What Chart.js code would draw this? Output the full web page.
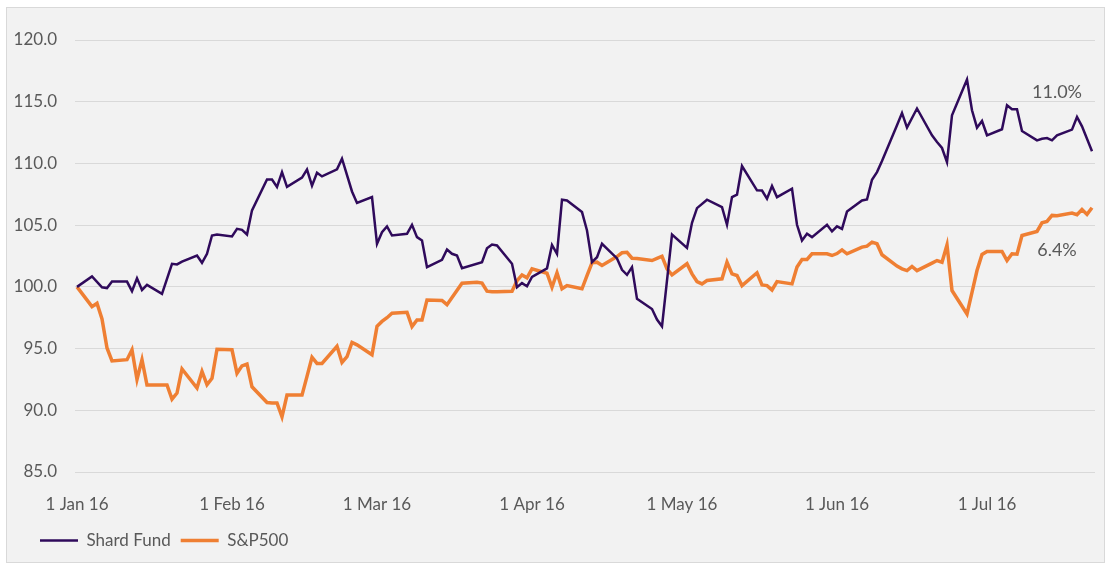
<!DOCTYPE html>
<html>
<head>
<meta charset="utf-8">
<script src="https://cdn.jsdelivr.net/npm/chart.js@4.4.1/dist/chart.umd.min.js"></script>
<style>
  html, body { margin: 0; padding: 0; background: #ffffff; }
  #frame {
    position: absolute; left: 6px; top: 7px;
    width: 1097px; height: 554px;
    background: #f2f2f2; border: 1px solid #d9d9d9;
  }
  #chart { display: block; }
</style>
</head>
<body>
<div id="frame"><canvas id="chart" width="1097" height="554"></canvas></div>
<script>
// x values are days since 1 Jan 2016 (trading days where the line bends)
const fundDays = [0, 3, 5, 6, 7, 10, 11, 12, 13, 14, 17, 19, 20, 21, 24, 25, 26, 27, 28,
    31, 32, 33, 34, 35, 38, 39, 40, 41, 42, 45, 46, 47, 48, 49, 52, 53, 55, 56, 59,
    60, 61, 62, 63, 66, 67, 68, 69, 70, 73, 74, 75, 76, 77, 81, 82, 83, 84, 87, 88, 89, 90,
    91, 94, 95, 96, 97, 98, 101, 102, 103, 104, 105, 108, 109, 110, 111, 112, 115, 116, 117, 119,
    122, 123, 124, 126, 129, 130, 131, 132, 133, 136, 137, 138, 139, 140, 143, 144, 145, 146, 147, 150, 151,
    152, 153, 154, 157, 158, 159, 160, 161, 164, 165, 166, 168, 171, 172, 173, 174, 175, 178, 179, 180, 181,
    182, 185, 186, 187, 188, 189, 192, 193, 194, 195, 196, 199, 200, 201, 203];
const fundValues = [100.0, 100.84, 99.97, 99.9, 100.43, 100.43, 99.65, 100.7, 99.75, 100.16, 99.43, 101.87, 101.82, 102.05, 102.54, 101.95, 102.68, 104.16, 104.24,
    104.08, 104.7, 104.62, 104.24, 106.2, 108.7, 108.7, 108.1, 109.3, 108.1, 108.85, 109.5, 108.2, 109.25, 108.95, 109.52, 110.39, 107.73, 106.8, 107.27,
    103.49, 104.43, 104.9, 104.16, 104.3, 105.03, 104.03, 103.76, 101.6, 102.19, 103.03, 102.68, 102.54, 101.51, 102.0, 103.13, 103.43, 103.35, 101.87, 99.97, 100.3, 100.05,
    100.8, 101.5, 103.4, 102.68, 107.06, 107.0, 106.06, 104.57, 102.0, 102.4, 103.49, 102.3, 101.38, 100.97, 101.6, 99.03, 98.2, 97.35, 96.8, 104.24,
    103.16, 105.19, 106.38, 107.06, 106.46, 105.03, 107.27, 107.47, 109.79, 107.82, 107.8, 107.14, 108.17, 107.27, 107.95, 105.03, 103.76, 104.3, 104.03, 105.03, 104.49,
    104.9, 104.7, 106.1, 107.0, 107.08, 108.68, 109.3, 110.2, 113.1, 114.09, 112.9, 114.45, 112.28, 111.74, 111.25, 110.11, 113.9, 116.8, 114.31, 112.9, 113.44,
    112.28, 112.77, 114.72, 114.39, 114.39, 112.63, 111.87, 112.0, 112.06, 111.87, 112.28, 112.74, 113.76, 113.0, 110.98];

const spDays = [0, 3, 4, 5, 6, 7, 10, 11, 12, 13, 14, 17, 18, 19, 20, 21, 24, 25, 26, 27, 28,
    31, 32, 33, 34, 35, 38, 39, 40, 41, 42, 45, 46, 47, 48, 49, 52, 53, 54, 55, 56, 59,
    60, 61, 62, 63, 66, 67, 68, 69, 70, 73, 74, 77, 80, 81, 82, 83, 84, 87, 88, 89, 90,
    91, 94, 95, 96, 97, 98, 101, 102, 103, 104, 105, 108, 109, 110, 111, 112, 115, 116, 117, 118, 119,
    122, 123, 124, 125, 126, 129, 130, 131, 132, 133, 136, 137, 138, 139, 140, 143, 144, 145, 146, 147, 150, 151,
    152, 153, 154, 157, 158, 159, 160, 161, 164, 165, 166, 167, 168, 171, 172, 173, 174, 175, 178, 179, 180, 181,
    182, 185, 186, 187, 188, 189, 192, 193, 194, 195, 196, 199, 200, 201, 202, 203];
const spValues = [100.0, 98.4, 98.67, 97.4, 95.05, 94.0, 94.1, 94.9, 92.5, 94.1, 92.05, 92.05, 92.05, 90.9, 91.4, 93.35, 91.8, 93.15, 92.07, 92.6, 94.95,
    94.9, 93.0, 93.6, 93.75, 91.9, 90.63, 90.6, 90.6, 89.47, 91.23, 91.23, 92.75, 94.3, 93.8, 93.8, 95.18, 93.88, 94.34, 95.5, 95.3, 94.5,
    96.8, 97.2, 97.5, 97.86, 97.94, 96.78, 97.32, 97.32, 98.94, 98.9, 98.56, 100.3, 100.38, 100.3, 99.65, 99.6, 99.6, 99.65, 100.5, 100.97, 100.73,
    101.46, 101.1, 99.97, 101.14, 99.84, 100.1, 99.84, 100.9, 101.95, 102.0, 101.73, 102.45, 102.76, 102.8, 102.32, 102.3, 102.13, 102.3, 102.48, 101.46, 100.97,
    101.87, 101.05, 100.43, 100.24, 100.51, 100.65, 102.0, 101.05, 100.92, 100.1, 101.14, 100.16, 100.1, 99.75, 100.43, 100.24, 101.6, 102.22, 102.22, 102.68, 102.68, 102.54,
    102.7, 103.0, 102.68, 103.22, 103.3, 103.62, 103.49, 102.6, 101.68, 101.46, 101.32, 101.65, 101.32, 101.92, 102.13, 102.0, 103.4, 99.7, 97.8, 99.56, 101.32, 102.62,
    102.87, 102.87, 102.13, 102.68, 102.65, 104.16, 104.49, 105.19, 105.3, 105.79, 105.76, 105.98, 105.84, 106.27, 105.87, 106.41];

const seriesNames = ['Shard Fund', 'S&P500'];
const tickDays = [0, 31, 60, 91, 121, 152, 182];
const tickLabels = ['1 Jan 16', '1 Feb 16', '1 Mar 16', '1 Apr 16', '1 May 16', '1 Jun 16', '1 Jul 16'];

const textColor = '#595959';
const fontFamily = 'Lato, "Open Sans", sans-serif';

function toPoints(days, values) {
    return days.map((d, i) => ({ x: d, y: values[i] }));
}

// end-of-period return labels next to the last points
const endLabels = {
    id: 'endLabels',
    afterLayout(chart) {
        // legend starts further right than the layout box
        chart.legend.left += 23;
    },
    afterDatasetsDraw(chart) {
        const ctx = chart.ctx;
        const offsets = [-59, 42];
        ctx.save();
        ctx.font = '18px ' + fontFamily;
        ctx.fillStyle = textColor;
        ctx.textAlign = 'center';
        ctx.textBaseline = 'middle';
        chart.data.datasets.forEach((ds, i) => {
            const meta = chart.getDatasetMeta(i);
            const last = meta.data[meta.data.length - 1];
            const v = ds.data[ds.data.length - 1].y;
            ctx.fillText((v - 100).toFixed(1) + '%', last.x - 35, last.y + offsets[i]);
        });
        ctx.restore();
    }
};

new Chart(document.getElementById('chart'), {
    type: 'line',
    data: {
        datasets: [
            {
                label: seriesNames[0],
                data: toPoints(fundDays, fundValues),
                borderColor: '#2f0a5b',
                backgroundColor: '#2f0a5b',
                borderWidth: 2.5,
                pointRadius: 0,
                tension: 0,
            },
            {
                label: seriesNames[1],
                data: toPoints(spDays, spValues),
                borderColor: '#ef7f33',
                backgroundColor: '#ef7f33',
                borderWidth: 3.5,
                pointRadius: 0,
                tension: 0,
            },
        ],
    },
    options: {
        responsive: false,
        animation: false,
        layout: {
            padding: { left: 0, right: 9, top: 32, bottom: 3 },
        },
        scales: {
            x: {
                type: 'linear',
                min: -0.4,
                max: 203.6,
                afterBuildTicks: scale => {
                    scale.ticks = tickDays.map(v => ({ value: v }));
                },
                afterFit: scale => {
                    scale.height = 50;
                },
                ticks: {
                    autoSkip: false,
                    maxRotation: 0,
                    padding: 14,
                    color: textColor,
                    font: { family: fontFamily, size: 17 },
                    callback: value => tickLabels[tickDays.indexOf(value)],
                },
                grid: { display: false },
                border: { display: false },
            },
            y: {
                min: 85,
                max: 120,
                afterFit: scale => {
                    scale.width = 68;
                },
                ticks: {
                    stepSize: 5,
                    padding: 18,
                    color: textColor,
                    font: { family: fontFamily, size: 17 },
                    callback: value => value.toFixed(1),
                },
                grid: {
                    color: '#d9d9d9',
                    lineWidth: 1,
                    drawTicks: false,
                },
                border: { display: false },
            },
        },
        plugins: {
            legend: {
                position: 'bottom',
                align: 'start',
                labels: {
                    usePointStyle: true,
                    pointStyle: 'line',
                    pointStyleWidth: 38,
                    boxHeight: 10,
                    padding: 10,
                    color: textColor,
                    font: { family: fontFamily, size: 17 },
                },
            },
            tooltip: { enabled: false },
        },
    },
    plugins: [endLabels],
});
</script>
</body>
</html>
